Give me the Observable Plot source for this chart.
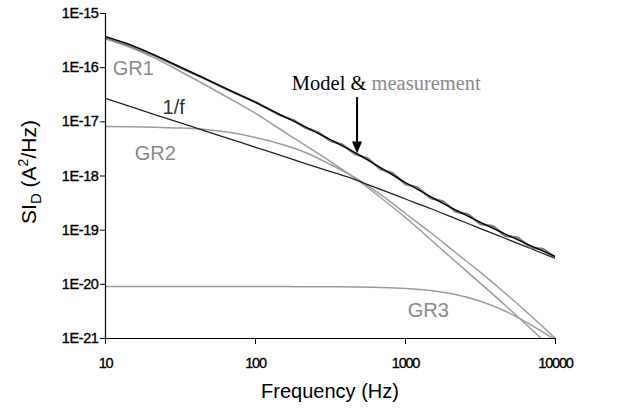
<!DOCTYPE html>
<html><head><meta charset="utf-8">
<script src="https://cdn.jsdelivr.net/npm/d3@7"></script>
<script src="https://cdn.jsdelivr.net/npm/@observablehq/plot@0.6"></script>
<style>body{margin:0;background:#fff} svg{display:block}</style>
</head><body><div id="chart"></div>
<script>
// Frequencies (Hz) at which the fitted components were read
const freq = [10,14.7,21.5,31.6,46.4,68.1,100,147,215,316,464,681,1000,1468,2154,3162,4642,6813,10000];
const oneOverF = [2.70e-17,1.91e-17,1.35e-17,9.56e-18,6.77e-18,4.80e-18,3.39e-18,2.40e-18,1.70e-18,1.21e-18,8.51e-19,5.64e-19,3.76e-19,2.51e-19,1.64e-19,1.07e-19,7.02e-20,4.59e-20,3.00e-20];
const gr1 = [3.38e-16,2.36e-16,1.48e-16,8.50e-17,4.79e-17,2.64e-17,1.43e-17,7.22e-18,3.66e-18,1.85e-18,8.99e-19,4.01e-19,1.71e-19,6.73e-20,2.64e-20,1.04e-20,4.07e-21,1.53e-21,5.76e-22];
const gr2 = [8.20e-18,8.10e-18,7.93e-18,7.70e-18,7.22e-18,6.36e-18,5.14e-18,3.90e-18,2.72e-18,1.63e-18,9.19e-19,4.56e-19,2.03e-19,9.06e-20,3.87e-20,1.66e-20,6.78e-21,2.66e-21,1.00e-21];
const gr3 = [9.1e-21,9.1e-21,9.1e-21,9.1e-21,9.1e-21,9.1e-21,9.1e-21,9.08e-21,9.05e-21,9.02e-21,8.93e-21,8.75e-21,8.38e-21,7.67e-21,6.49e-21,4.88e-21,3.18e-21,1.81e-21,9.4e-22];
const model = [3.73e-16,2.63e-16,1.69e-16,1.02e-16,6.19e-17,3.76e-17,2.28e-17,1.35e-17,8.08e-18,4.69e-18,2.68e-18,1.43e-18,7.58e-19,4.16e-19,2.36e-19,1.39e-19,8.43e-20,5.19e-20,3.25e-20];

// Measured spectrum
const measFreq = [10,14.7,21.5,31.6,46.4,68.1,100,147,180,215,260,316,380,464,560,681,820,1000,1210,1468,1780,2154,2600,3162,3830,4642,5620,6813,8250,10000];
const measValue = [3.62e-16,2.53e-16,1.64e-16,1.00e-16,6.2e-17,3.72e-17,2.33e-17,1.31e-17,1.07e-17,7.76e-18,6.49e-18,4.46e-18,3.79e-18,2.52e-18,2.12e-18,1.34e-18,1.13e-18,7.05e-19,6.10e-19,3.90e-19,3.40e-19,2.19e-19,1.98e-19,1.29e-19,1.19e-19,7.80e-20,7.26e-20,4.75e-20,4.50e-20,3.10e-20];

// Axis ticks
const xTicks = [10,100,1000,10000];
const xTickLabels = ["10","100","1000","10000"];
const yTicks = [1e-15,1e-16,1e-17,1e-18,1e-19,1e-20,1e-21];
const yTickLabels = ["1E-15","1E-16","1E-17","1E-18","1E-19","1E-20","1E-21"];

// Curve labels: text, frequency, value
const labelText = ["GR1","1/f","GR2","GR3"];
const labelFreq = [15.3,28.5,21.5,1420];
const labelVal = [9.7e-17,1.85e-17,2.6e-18,3.3e-21];
const labelColor = ["#8a8a8a","#333333","#8a8a8a","#8a8a8a"];

// Annotation "Model & measurement" with its arrow
const annotFreq = 176;
const annotVal = 3.8e-17;
const arrowFreq = 479;
const arrowFrom = 2.8e-17;
const arrowTo = 2.55e-18;

const comp = freq.map((f,i)=>({f, oneOverF:oneOverF[i], gr1:gr1[i], gr2:gr2[i], gr3:gr3[i], model:model[i]}));
const meas = measFreq.map((f,i)=>({f, v:measValue[i]}));
const labels = labelText.map((t,i)=>({t, f:labelFreq[i], v:labelVal[i], c:labelColor[i]}));

const gray = "#9c9c9c";
const svg = Plot.plot({
  width: 640, height: 415,
  marginLeft: 105, marginRight: 85, marginTop: 13, marginBottom: 77,
  style: {fontFamily: "Arial, 'Liberation Sans', sans-serif", background: "#fff", color: "#000"},
  x: {type: "log", domain: [10, 10000]},
  y: {type: "log", domain: [1e-21, 1e-15]},
  marks: [
    Plot.axisY({ticks: yTicks, tickFormat: d => yTickLabels[yTicks.indexOf(d)], tickSize: 5, tickPadding: 2, fontSize: 14.5, label: null}),
    Plot.axisX({ticks: xTicks, tickFormat: d => xTickLabels[xTicks.indexOf(d)], tickSize: 6, tickPadding: 13, fontSize: 14.5, label: null}),
    Plot.line(comp, {x: "f", y: "gr3", stroke: gray, strokeWidth: 1.5, curve: "monotone-x", clip: true}),
    Plot.line(comp, {x: "f", y: "gr2", stroke: gray, strokeWidth: 1.5, curve: "monotone-x", clip: true}),
    Plot.line(comp, {x: "f", y: "gr1", stroke: gray, strokeWidth: 1.5, curve: "monotone-x", clip: true}),
    Plot.line(comp, {x: "f", y: "oneOverF", stroke: "#222", strokeWidth: 1.3, curve: "monotone-x", clip: true}),
    Plot.line(meas, {x: "f", y: "v", stroke: "#7a7a7a", strokeWidth: 2.3, curve: "linear", clip: true}),
    Plot.line(comp, {x: "f", y: "model", stroke: "#000", strokeWidth: 1.4, curve: "monotone-x", clip: true}),
    Plot.ruleX([10], {stroke: "#000", strokeWidth: 1.2}),
    Plot.ruleY([1e-21], {stroke: "#000", strokeWidth: 1.2}),
    Plot.text(labels, {x: "f", y: "v", text: "t", fill: "c", fontSize: 20, textAnchor: "middle"})
  ]
});

// Heavier, compact tick labels as in the original
svg.querySelectorAll('g[aria-label="y-axis tick label"] text').forEach(t => {
  t.setAttribute("letter-spacing", "-0.4"); t.setAttribute("stroke", "#000"); t.setAttribute("stroke-width", "0.35");
});
svg.querySelectorAll('g[aria-label="x-axis tick label"] text').forEach(t => {
  t.setAttribute("letter-spacing", "-1.2"); t.setAttribute("stroke", "#000"); t.setAttribute("stroke-width", "0.35");
});

const sx = svg.scale("x"), sy = svg.scale("y");
const s = d3.select(svg);

// Annotation text
const ax = sx.apply(annotFreq), ay = sy.apply(annotVal);
const at = s.append("text").attr("x", ax).attr("y", ay).attr("text-anchor", "start")
  .attr("font-family", "'Liberation Serif', 'Times New Roman', serif").attr("font-size", 20.5);
at.append("tspan").attr("fill", "#000").text("Model & ");
at.append("tspan").attr("fill", "#8a8a8a").text("measurement");

// Arrow pointing at the model curve
const axp = sx.apply(arrowFreq);
const y1 = sy.apply(arrowFrom);
const y2 = sy.apply(arrowTo);
s.append("line").attr("x1", axp).attr("x2", axp).attr("y1", y1).attr("y2", y2 - 8)
  .attr("stroke", "#000").attr("stroke-width", 2);
s.append("path").attr("d", `M${axp - 5},${y2 - 12}L${axp + 5},${y2 - 12}L${axp},${y2}Z`).attr("fill", "#000");

// Axis titles
const yt = s.append("text").attr("transform", "translate(36,172) rotate(-90)")
  .attr("text-anchor", "middle").attr("font-size", 21).attr("fill", "#000");
yt.append("tspan").text("SI");
yt.append("tspan").attr("dy", 5).attr("font-size", 15).text("D");
yt.append("tspan").attr("dy", -5).text(" (A");
yt.append("tspan").attr("dy", -8).attr("font-size", 14).text("2");
yt.append("tspan").attr("dy", 8).text("/Hz)");

s.append("text").attr("x", 330).attr("y", 398).attr("text-anchor", "middle")
  .attr("font-size", 20).attr("fill", "#000").text("Frequency (Hz)");

document.getElementById("chart").appendChild(svg);
</script>
</body></html>
